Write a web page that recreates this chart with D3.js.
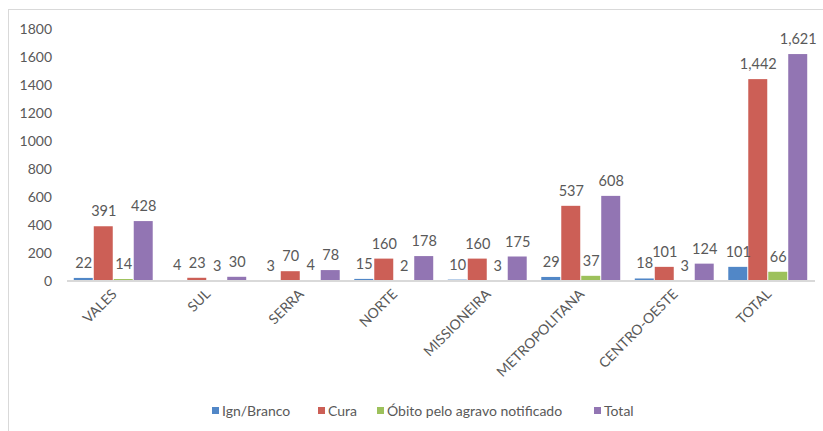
<!DOCTYPE html>
<html>
<head>
<meta charset="utf-8">
<script src="https://cdn.jsdelivr.net/npm/d3@7"></script>
<style>
  body { margin: 0; background: #fff; }
  svg text { font-family: Lato, "Open Sans", sans-serif; fill: #595959; }
</style>
</head>
<body>
<div id="chart"></div>
<script>
// regions and series values
var categories = ["VALES", "SUL", "SERRA", "NORTE", "MISSIONEIRA", "METROPOLITANA", "CENTRO-OESTE", "TOTAL"];
var seriesNames = ["Ign/Branco", "Cura", "Óbito pelo agravo notificado", "Total"];
var ignBranco = [22, 4, 3, 15, 10, 29, 18, 101];
var cura = [391, 23, 70, 160, 160, 537, 101, 1442];
var obito = [14, 3, 4, 2, 3, 37, 3, 66];
var total = [428, 30, 78, 178, 175, 608, 124, 1621];
var yTicks = [0, 200, 400, 600, 800, 1000, 1200, 1400, 1600, 1800];

var colors = ["#5187c7", "#cc5f56", "#9dc15b", "#9275b3"];
var values = [ignBranco, cura, obito, total];

var W = 823, H = 431;
var margin = {top: 29, right: 8, bottom: 150, left: 67};
var width = W - margin.left - margin.right,
    height = H - margin.top - margin.bottom;

var svg = d3.select("#chart").append("svg")
    .attr("width", W)
    .attr("height", H);

// chart frame
svg.append("rect")
    .attr("x", 8.5).attr("y", 9.5)
    .attr("width", W + 10).attr("height", H + 10)
    .attr("fill", "none")
    .attr("stroke", "#d9d9d9");

var g = svg.append("g")
    .attr("transform", "translate(" + margin.left + "," + margin.top + ")");

var x0 = d3.scaleBand().domain(categories).range([0, width]).paddingInner(0.145).paddingOuter(0.0725);
var x1 = d3.scaleBand().domain(d3.range(seriesNames.length)).range([0, x0.bandwidth()]);
var y = d3.scaleLinear().domain([0, 1800]).range([height, 0]);

// y axis labels only
var yAxis = d3.axisLeft(y).tickValues(yTicks).tickFormat(d3.format("d")).tickSize(0).tickPadding(15);
var ya = g.append("g").call(yAxis);
ya.select(".domain").remove();
ya.selectAll("text").style("font-size", "14px").attr("fill", "#595959");

var groups = g.selectAll(".grp")
    .data(categories)
    .enter().append("g")
    .attr("class", "grp")
    .attr("transform", function(d) { return "translate(" + x0(d) + ",0)"; });

var fmt = d3.format(",");

groups.each(function(c, ci) {
    var grp = d3.select(this);
    var recs = values.map(function(v, si) { return {s: si, v: v[ci]}; });
    grp.selectAll("rect")
        .data(recs)
        .enter().append("rect")
        .attr("x", function(d) { return x1(d.s); })
        .attr("width", x1.bandwidth() - 1)
        .attr("y", function(d) { return y(d.v); })
        .attr("height", function(d) { return height - y(d.v); })
        .attr("fill", function(d) { return colors[d.s]; });
    grp.selectAll("text.lbl")
        .data(recs)
        .enter().append("text")
        .attr("class", "lbl")
        .attr("x", function(d) { return x1(d.s) + x1.bandwidth() / 2; })
        .attr("y", function(d) { return y(d.v) - 10; })
        .attr("text-anchor", "middle")
        .style("font-size", "14.5px")
        .text(function(d) { return fmt(d.v); });
});

// x axis
var xAxis = d3.axisBottom(x0).tickSize(0).tickPadding(0);
var xa = g.append("g")
    .attr("transform", "translate(0," + height + ")")
    .call(xAxis);
xa.select(".domain").attr("stroke", "#d9d9d9").attr("stroke-width", 2)
    .attr("d", "M0,0H" + width);
xa.selectAll("text")
    .attr("dy", null)
    .attr("y", 0)
    .attr("text-anchor", "end")
    .attr("transform", "translate(4,14) rotate(-45)")
    .style("font-size", "14px")
    .attr("fill", "#595959");

// legend
var legendX = [212, 318, 377, 594];
var legend = svg.append("g").attr("class", "legend");
var items = legend.selectAll("g")
    .data(seriesNames)
    .enter().append("g")
    .attr("transform", function(d, i) { return "translate(" + legendX[i] + ",411)"; });
items.append("rect")
    .attr("x", 0).attr("y", -4)
    .attr("width", 7).attr("height", 7)
    .attr("fill", function(d, i) { return colors[i]; });
items.append("text")
    .attr("x", 10)
    .attr("y", 5)
    .style("font-size", "14px")
    .text(function(d) { return d; });
</script>
</body>
</html>
